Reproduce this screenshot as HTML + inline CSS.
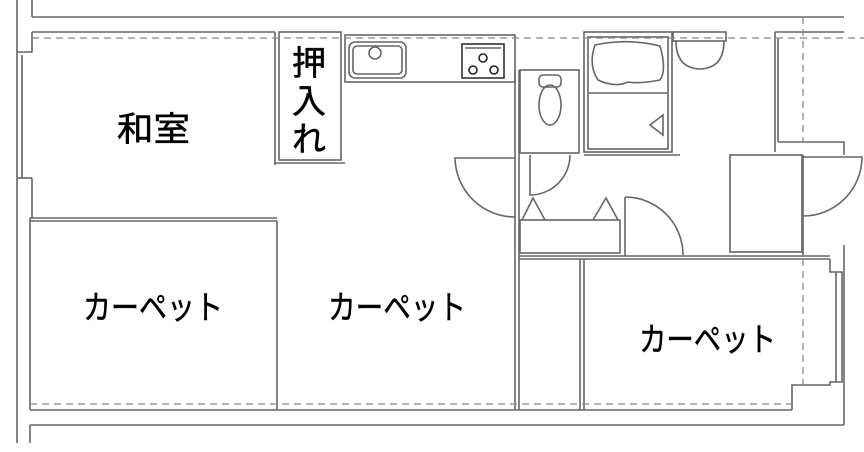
<!DOCTYPE html>
<html><head><meta charset="utf-8"><style>
html,body{margin:0;padding:0;background:#fff}
svg{display:block}
text{font-family:"Liberation Sans","Noto Sans CJK JP",sans-serif;fill:#000;stroke:#000;stroke-width:0.5}
</style></head><body>
<svg width="864" height="452" viewBox="0 0 864 452" xmlns="http://www.w3.org/2000/svg">
<g fill="none" stroke="#666" stroke-width="1.6">
<line x1="32" y1="17" x2="844" y2="17"/>
<line x1="32" y1="0" x2="32" y2="17"/>
<line x1="17" y1="0" x2="17" y2="55"/>
<polyline points="32,32 275,32"/>
<polyline points="32,32 32,52 17,52"/>
<line x1="17" y1="55" x2="17" y2="178"/>
<line x1="22" y1="55" x2="22" y2="178"/>
<line x1="17" y1="178" x2="32" y2="178"/>
<line x1="32" y1="178" x2="32" y2="218"/>
<line x1="17" y1="178" x2="17" y2="443"/>
<line x1="30" y1="218" x2="30" y2="410"/>
<line x1="30" y1="425" x2="30" y2="443"/>
<line x1="30" y1="425" x2="844" y2="425"/>
<line x1="30" y1="218" x2="277" y2="218"/>
<line x1="30" y1="221" x2="277" y2="221"/>
<line x1="275" y1="32" x2="275" y2="165"/>
<rect x="279" y="32" width="62" height="128"/>
<line x1="275" y1="163" x2="345" y2="163"/>
<rect x="345" y="35" width="170" height="47"/>
<rect x="349" y="42" width="57" height="36" rx="6"/>
<rect x="353" y="46" width="49" height="28" rx="4"/>
<circle cx="375" cy="53" r="6"/>
<rect x="462" y="44" width="42" height="34" stroke="#333"/>
<line x1="465" y1="48" x2="501" y2="48"/>
<circle cx="483" cy="58" r="4" stroke="#222"/>
<circle cx="473" cy="70" r="4" stroke="#222"/>
<circle cx="494" cy="70" r="4" stroke="#222"/>
<line x1="277" y1="221" x2="277" y2="410"/>
<line x1="515" y1="70" x2="515" y2="410"/>
<line x1="519" y1="70" x2="519" y2="410"/>
<rect x="520" y="70" width="59" height="83"/>
<ellipse cx="550" cy="105" rx="11" ry="20"/>
<rect x="539" y="75" width="22" height="12" rx="4"/>
<rect x="584" y="32" width="88" height="120"/>
<rect x="588" y="37" width="80" height="112"/>
<line x1="588" y1="93" x2="668" y2="93"/>
<path d="M595,45 Q628,38 660,46 Q667,70 660,80 Q640,84 628,82 Q615,88 598,80 Q588,65 595,45Z"/>
<polygon points="650,125 663,115 663,135"/>
<line x1="584" y1="155" x2="680" y2="155"/>
<rect x="673" y="32" width="53" height="9"/>
<path d="M676,41 Q676,68 700,69 Q724,68 724,41"/>
<line x1="775" y1="32" x2="775" y2="152"/>
<line x1="775" y1="32" x2="844" y2="32"/>
<line x1="778" y1="38" x2="778" y2="142"/>
<polyline points="778,142 844,142 844,155"/>
<rect x="730" y="155" width="72" height="97"/>
<line x1="803" y1="155" x2="803" y2="255"/>
<path d="M803,157 L862,157 A59,59 0 0 1 803,216"/>
<path d="M515,158 L455,158 A60,60 0 0 0 515,217"/>
<path d="M530,155 L530,195 A40,40 0 0 0 570,155"/>
<rect x="520" y="220" width="100" height="33"/>
<polyline points="522,220 533,198 545,220"/>
<polyline points="593,220 606,198 618,220"/>
<line x1="625" y1="197" x2="625" y2="256"/>
<path d="M625,197 A58,58 0 0 1 683,255"/>
<line x1="519" y1="256" x2="830" y2="256"/>
<line x1="519" y1="259" x2="830" y2="259"/>
<line x1="580" y1="259" x2="580" y2="410"/>
<line x1="584" y1="259" x2="584" y2="410"/>
<polyline points="830,259 830,272 842,272 842,382 830,382 830,385 792,385 792,410"/>
<line x1="836" y1="272" x2="836" y2="382"/>
<line x1="844" y1="245" x2="844" y2="425"/>
<line x1="30" y1="410" x2="792" y2="410"/>
</g>
<g fill="none" stroke="#888" stroke-width="1.3" stroke-dasharray="7,5">
<line x1="32" y1="38" x2="864" y2="38"/>
<line x1="30" y1="404" x2="792" y2="404"/>
<line x1="803" y1="17" x2="803" y2="142"/>
<line x1="803" y1="259" x2="803" y2="385"/>
</g>
<text x="117" y="141" font-size="34" textLength="73" lengthAdjust="spacingAndGlyphs">和室</text>
<text x="292" y="75" font-size="34">押</text>
<text x="292" y="113" font-size="34">入</text>
<text x="292" y="151" font-size="34">れ</text>
<text x="83" y="319" font-size="33" textLength="140" lengthAdjust="spacingAndGlyphs">カーペット</text>
<text x="328" y="319" font-size="33" textLength="138" lengthAdjust="spacingAndGlyphs">カーペット</text>
<text x="639" y="351" font-size="33" textLength="137" lengthAdjust="spacingAndGlyphs">カーペット</text>
</svg>
</body></html>
